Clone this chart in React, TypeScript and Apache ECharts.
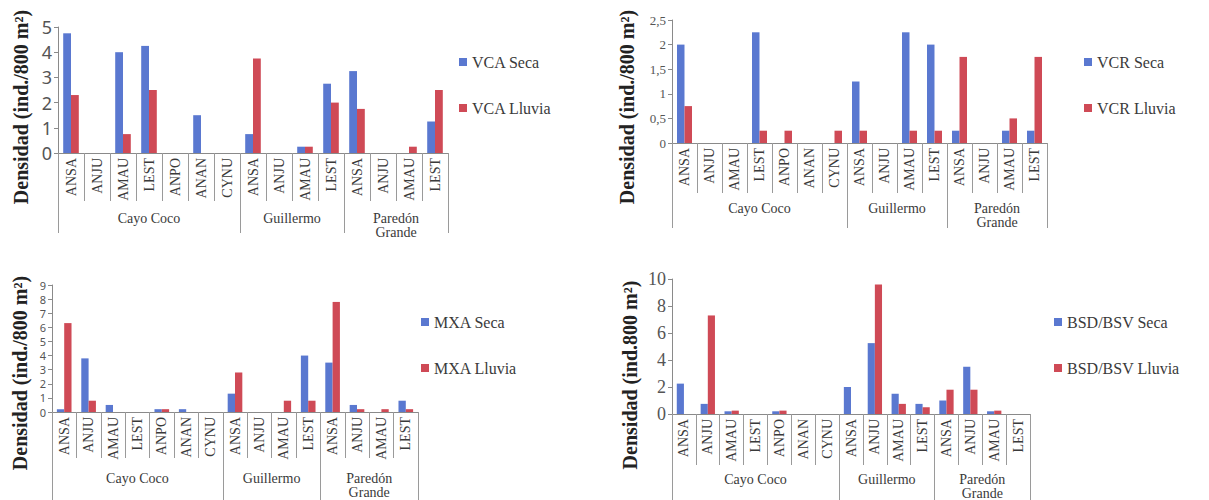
import React, { useEffect, useRef } from "react";
import * as echarts from "echarts";

const groups = ["Cayo Coco", "Guillermo", "Paredón\nGrande"];
const groupSizes = [7, 4, 4];
const sites = ["ANSA","ANJU","AMAU","LEST","ANPO","ANAN","CYNU","ANSA","ANJU","AMAU","LEST","ANSA","ANJU","AMAU","LEST"];

const vcaSeca =   [4.75, 0, 4.0, 4.25, 0, 1.5, 0, 0.75, 0, 0.25, 2.75, 3.25, 0, 0, 1.25];
const vcaLluvia = [2.3, 0, 0.75, 2.5, 0, 0, 0, 3.75, 0, 0.25, 2.0, 1.75, 0, 0.25, 2.5];

const vcrSeca =   [2.0, 0, 0, 2.25, 0, 0, 0, 1.25, 0, 2.25, 2.0, 0.25, 0, 0.25, 0.25];
const vcrLluvia = [0.75, 0, 0, 0.25, 0.25, 0, 0.25, 0.25, 0, 0.25, 0.25, 1.75, 0, 0.5, 1.75];

const mxaSeca =   [0.2, 3.8, 0.5, 0, 0.2, 0.2, 0, 1.3, 0, 0, 4.0, 3.5, 0.5, 0, 0.8];
const mxaLluvia = [6.3, 0.8, 0, 0, 0.2, 0, 0, 2.8, 0, 0.8, 0.8, 7.8, 0.2, 0.2, 0.2];

const bsdSeca =   [2.25, 0.75, 0.2, 0, 0.2, 0, 0, 2.0, 5.25, 1.5, 0.75, 1.0, 3.5, 0.2, 0];
const bsdLluvia = [0, 7.3, 0.25, 0, 0.25, 0, 0, 0, 9.6, 0.75, 0.5, 1.8, 1.8, 0.25, 0];

const BLUE = "#5a78d0";
const RED = "#cf4a56";
const SERIF = '"Liberation Serif", serif';
const SANS = '"Noto Sans", sans-serif';

type Panel = {
  names: [string, string];
  seca: number[];
  lluvia: number[];
  max: number;
  interval: number;
  grid: { left: number; top: number; width: number; height: number };
  yFont: number;
  yFamily: string;
  tickLen: number;
  groupTickLen: number;
  groupMargin: number;
  legend: { left: number; top: number };
  title: string;
  titlePos: { x: number; y: number };
};

const panels: Panel[] = [
  {
    names: ["VCA Seca", "VCA Lluvia"], seca: vcaSeca, lluvia: vcaLluvia, max: 5, interval: 1,
    grid: { left: 58, top: 27, width: 390, height: 126 }, yFont: 18, yFamily: SANS,
    tickLen: 48, groupTickLen: 80, groupMargin: 58,
    legend: { left: 459, top: 54 }, title: "Densidad (ind./800 m²)", titlePos: { x: 21, y: 107 },
  },
  {
    names: ["VCR Seca", "VCR Lluvia"], seca: vcrSeca, lluvia: vcrLluvia, max: 2.5, interval: 0.5,
    grid: { left: 672, top: 20, width: 375, height: 123 }, yFont: 13, yFamily: SERIF,
    tickLen: 50, groupTickLen: 85, groupMargin: 58,
    legend: { left: 1084, top: 54 }, title: "Densidad (ind./800 m²)", titlePos: { x: 627, y: 107 },
  },
  {
    names: ["MXA Seca", "MXA Lluvia"], seca: mxaSeca, lluvia: mxaLluvia, max: 9, interval: 1,
    grid: { left: 52, top: 285, width: 366, height: 127 }, yFont: 11, yFamily: SANS,
    tickLen: 46, groupTickLen: 90, groupMargin: 59,
    legend: { left: 421, top: 314 }, title: "Densidad (ind./800 m²)", titlePos: { x: 20, y: 373 },
  },
  {
    names: ["BSD/BSV Seca", "BSD/BSV Lluvia"], seca: bsdSeca, lluvia: bsdLluvia, max: 10, interval: 2,
    grid: { left: 672, top: 279, width: 358, height: 140 }, yFont: 18, yFamily: SERIF,
    tickLen: 51, groupTickLen: 90, groupMargin: 58,
    legend: { left: 1054, top: 314 }, title: "Densidad (ind.800 m²)", titlePos: { x: 630, y: 375 },
  },
];

function buildOption() {
  const catIds = sites.map((s, i) => `${i}|${s}`);
  const bounds: number[] = [0];
  groupSizes.forEach((n) => bounds.push(bounds[bounds.length - 1] + n));
  const groupAxisData: string[] = [];
  for (let k = 0; k <= 30; k++) groupAxisData.push("");
  const groupLabelIdx: number[] = [];
  groups.forEach((g, i) => {
    const k = bounds[i] + bounds[i + 1];
    groupAxisData[k] = g;
    groupLabelIdx.push(k);
  });
  const boundIdx = bounds.map((b) => b * 2);

  const grid: any[] = [];
  const xAxis: any[] = [];
  const yAxis: any[] = [];
  const series: any[] = [];
  const legend: any[] = [];
  const graphic: any[] = [];

  panels.forEach((p, pi) => {
    grid.push({ ...p.grid, containLabel: false });
    xAxis.push({
      type: "category", gridIndex: pi, position: "bottom", data: catIds,
      axisLine: { lineStyle: { color: "#8a8a8a", width: 1 } },
      axisTick: { show: true, interval: 0, length: p.tickLen, lineStyle: { color: "#9a9a9a" } },
      axisLabel: {
        interval: 0, rotate: 90, margin: 5, fontFamily: SERIF, fontSize: 14, color: "#3a3a3a",
        formatter: (v: string) => v.split("|")[1],
      },
    });
    xAxis.push({
      type: "category", gridIndex: pi, position: "bottom", boundaryGap: false, data: groupAxisData,
      axisLine: { show: false },
      axisTick: {
        show: true, length: p.groupTickLen, lineStyle: { color: "#9a9a9a" },
        interval: (idx: number) => boundIdx.indexOf(idx) >= 0,
      },
      axisLabel: {
        interval: (idx: number) => groupLabelIdx.indexOf(idx) >= 0,
        margin: p.groupMargin, fontFamily: SERIF, fontSize: 14, color: "#3a3a3a", lineHeight: 14,
        verticalAlign: "top",
      },
    });
    yAxis.push({
      type: "value", gridIndex: pi, min: 0, max: p.max, interval: p.interval,
      splitLine: { show: false },
      axisLine: { show: true, lineStyle: { color: "#8a8a8a" } },
      axisTick: { show: true, length: 4, lineStyle: { color: "#8a8a8a" } },
      axisLabel: {
        fontFamily: p.yFamily, fontSize: p.yFont, lineHeight: p.yFont + 1, color: "#555", margin: 6,
        showMinLabel: true, showMaxLabel: true, hideOverlap: false,
        formatter: (v: number) => String(v).replace(".", ","),
      },
    });
    series.push({
      name: p.names[0], type: "bar", xAxisIndex: pi * 2, yAxisIndex: pi, data: p.seca,
      itemStyle: { color: BLUE }, barWidth: "30%", barGap: "0%",
    });
    series.push({
      name: p.names[1], type: "bar", xAxisIndex: pi * 2, yAxisIndex: pi, data: p.lluvia,
      itemStyle: { color: RED }, barWidth: "30%", barGap: "0%",
    });
    legend.push({
      data: p.names, left: p.legend.left, top: p.legend.top, orient: "vertical",
      icon: "rect", itemWidth: 8, itemHeight: 8, itemGap: 30, padding: 0,
      textStyle: { fontFamily: SERIF, fontSize: 16, color: "#3a3a3a" },
      selectedMode: false,
    });
    graphic.push({
      type: "text", x: p.titlePos.x, y: p.titlePos.y, rotation: Math.PI / 2,
      style: {
        text: p.title, fontFamily: SERIF, fontWeight: "bold", fontSize: 20, fill: "#222",
        align: "center", verticalAlign: "middle",
      },
    });
  });

  return {
    animation: false, backgroundColor: "#ffffff",
    textStyle: { fontFamily: SERIF },
    grid, xAxis, yAxis, series, legend, graphic,
  };
}

export default function App() {
  const ref = useRef<HTMLDivElement>(null);
  useEffect(() => {
    if (!ref.current) return;
    const chart = echarts.init(ref.current, undefined, { renderer: "svg" });
    chart.setOption(buildOption() as any);
    return () => chart.dispose();
  }, []);
  return (
    <div
      ref={ref}
      style={{ position: "fixed", left: 0, top: 0, width: 1209, height: 500, background: "#fff" }}
    />
  );
}
